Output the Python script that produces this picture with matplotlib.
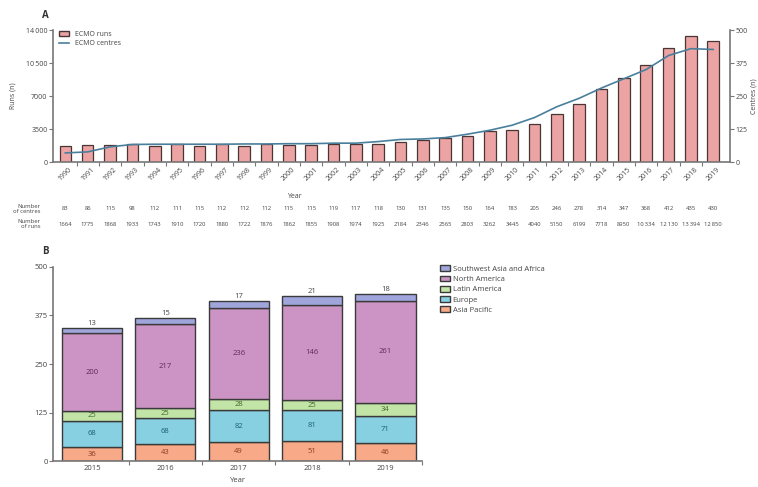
import matplotlib.pyplot as plt
import matplotlib.transforms as mtransforms
from matplotlib.patches import Patch
from matplotlib.lines import Line2D
import numpy as np

plt.rcParams['font.family'] = ['Open Sans', 'DejaVu Sans']

# ---- panel A data ----
years = list(range(1990, 2020))
runs = [1664, 1775, 1868, 1933, 1743, 1910, 1720, 1880, 1722, 1876, 1862, 1855, 1908, 1974, 1925,
        2184, 2346, 2565, 2803, 3262, 3445, 4040, 5150, 6199, 7718, 8950, 10334, 12130, 13394, 12850]
centres = [83, 86, 115, 98, 112, 111, 115, 112, 112, 112, 115, 115, 119, 117, 118,
           130, 131, 135, 150, 164, 183, 205, 246, 278, 314, 347, 368, 412, 435, 430]
# centre curve as drawn in the figure
centres_curve = [35, 39, 58, 67, 68, 68, 68, 68, 69, 69, 70, 70, 72, 72, 78,
                 86, 88, 93, 106, 121, 140, 169, 210, 242, 281, 316, 351, 404, 430, 427]

# ---- panel B data ----
years_b = ['2015', '2016', '2017', '2018', '2019']
regions = ['Asia Pacific', 'Europe', 'Latin America', 'North America', 'Southwest Asia and Africa']
asia_pacific = [36, 43, 49, 51, 46]
europe = [68, 68, 82, 81, 71]
latin_america = [25, 25, 28, 25, 34]
north_america = [200, 217, 236, 246, 261]
north_america_labels = ['200', '217', '236', '146', '261']
sw_asia_africa = [13, 15, 17, 21, 18]

fill = ['#f8aa88', '#86d0e2', '#c2e4a6', '#cc94c4', '#a0a6dc']
text_col = ['#8a3a20', '#1f5f70', '#3f6a2a', '#5a2a58', '#444444']
edge = '#3a3a3a'
axcol = '#777777'
tcol = '#444444'


def fmt(v):
    s = str(v)
    return s[:-3] + '\u2009' + s[-3:] if v >= 10000 else s


fig = plt.figure(figsize=(7.58, 4.87), dpi=100)

# ================= panel A =================
ax = fig.add_axes([0.070, 0.667, 0.893, 0.271])
x = np.arange(len(years))
ax.bar(x, runs, width=0.52, color='#eba3a3', edgecolor='#4a3535', linewidth=0.9, zorder=2)
ax.set_ylim(0, 14000)
ax.set_xlim(-0.55, 29.75)
ax.set_yticks([0, 3500, 7000, 10500, 14000])
ax.set_yticklabels(['0', '3500', '7000', '10\u2009500', '14\u2009000'], fontsize=5, color=tcol)
ax.set_xticks(x)
ax.set_xticklabels([str(y) for y in years], rotation=45, fontsize=5, color=tcol)
ax.set_xticks(x[:-1] + 0.5, minor=True)
ax.tick_params(axis='x', which='major', length=0, pad=3)
ax.tick_params(axis='x', which='minor', length=3, color=axcol, width=0.8)
ax.tick_params(axis='y', length=3, color=axcol, width=0.8, pad=1)
ax.set_ylabel('Runs (n)', fontsize=5, color=tcol, labelpad=7)
ax.set_xlabel('Year', fontsize=5, color=tcol, labelpad=4)
ax.xaxis.set_label_coords(0.356, -0.23)
for s in ['top', 'right']:
    ax.spines[s].set_visible(False)
for s in ['left', 'bottom']:
    ax.spines[s].set_color(axcol)
    ax.spines[s].set_linewidth(1.2)

ax2 = ax.twinx()
ax2.plot(x, centres_curve, color='#4a7f9c', linewidth=1.2, zorder=3)
ax2.set_ylim(0, 500)
ax2.set_yticks([0, 125, 250, 375, 500])
ax2.set_yticklabels(['0', '125', '250', '375', '500'], fontsize=5, color=tcol)
ax2.tick_params(axis='y', length=3, color=axcol, width=0.8, pad=1)
ax2.set_ylabel('Centres (n)', fontsize=5, color=tcol, rotation=90, labelpad=2)
for s in ['top', 'left', 'bottom']:
    ax2.spines[s].set_visible(False)
ax2.spines['right'].set_color(axcol)
ax2.spines['right'].set_linewidth(1.2)

ax.legend(handles=[Patch(facecolor='#eba3a3', edgecolor='#4a3535', label='ECMO runs'),
                   Line2D([0], [0], color='#4a7f9c', lw=1.2, label='ECMO centres')],
          loc='upper left', bbox_to_anchor=(0.0, 1.04), frameon=False, fontsize=5,
          handlelength=1.4, handleheight=0.8, labelspacing=0.25, labelcolor=tcol)

fig.text(0.055, 0.969, 'A', fontsize=7, fontweight='bold', color='#333333', ha='left', va='center')

# table under panel A
tr = mtransforms.blended_transform_factory(ax.transData, fig.transFigure)
for i in range(len(years)):
    fig.text(x[i], 0.571, str(centres[i]), transform=tr, fontsize=4.2, color=tcol, ha='center', va='center')
    fig.text(x[i], 0.540, fmt(runs[i]), transform=tr, fontsize=4.2, color=tcol, ha='center', va='center')
fig.text(0.053, 0.571, 'Number\nof centres', fontsize=4.2, color=tcol, ha='right', va='center', linespacing=1.0)
fig.text(0.053, 0.540, 'Number\nof runs', fontsize=4.2, color=tcol, ha='right', va='center', linespacing=1.0)

# ================= panel B =================
bx = fig.add_axes([0.070, 0.053, 0.487, 0.399])
xb = np.arange(len(years_b))
series = [asia_pacific, europe, latin_america, north_america, sw_asia_africa]
labels = [list(map(str, asia_pacific)), list(map(str, europe)), list(map(str, latin_america)),
          north_america_labels, list(map(str, sw_asia_africa))]
bottom = np.zeros(len(years_b))
for k, vals in enumerate(series):
    vals = np.array(vals)
    bx.bar(xb, vals, bottom=bottom, width=0.82, color=fill[k], edgecolor=edge, linewidth=1.0,
           label=regions[k], zorder=2)
    for i in range(len(xb)):
        if k < 4:
            bx.text(xb[i], bottom[i] + vals[i] / 2, labels[k][i], ha='center', va='center',
                    fontsize=5.5, color=text_col[k])
        else:
            bx.text(xb[i], bottom[i] + vals[i] + 3, labels[k][i], ha='center', va='bottom',
                    fontsize=5.5, color=text_col[k])
    bottom = bottom + vals

bx.set_ylim(0, 500)
bx.set_xlim(-0.53, 4.5)
bx.set_yticks([0, 125, 250, 375, 500])
bx.set_yticklabels(['0', '125', '250', '375', '500'], fontsize=5.5, color=tcol)
bx.set_xticks(xb)
bx.set_xticklabels(years_b, fontsize=5.5, color=tcol)
bx.set_xticks(xb + 0.5, minor=True)
bx.tick_params(axis='x', which='major', length=0, pad=3)
bx.tick_params(axis='x', which='minor', length=3, color=axcol, width=0.8)
bx.tick_params(axis='y', length=3, color=axcol, width=0.8, pad=1)
bx.set_xlabel('Year', fontsize=5.5, color=tcol, labelpad=3)
for s in ['top', 'right']:
    bx.spines[s].set_visible(False)
for s in ['left', 'bottom']:
    bx.spines[s].set_color(axcol)
    bx.spines[s].set_linewidth(1.2)

h, l = bx.get_legend_handles_labels()
fig.legend(h[::-1], l[::-1], loc='upper left', bbox_to_anchor=(0.575, 0.463), frameon=False,
           fontsize=5.5, handlelength=1.3, handleheight=0.8, labelspacing=0.35, labelcolor=tcol,
           borderpad=0, handletextpad=0.4)

fig.text(0.055, 0.483, 'B', fontsize=7, fontweight='bold', color='#333333', ha='left', va='center')

fig.savefig('out.png', dpi=100)
